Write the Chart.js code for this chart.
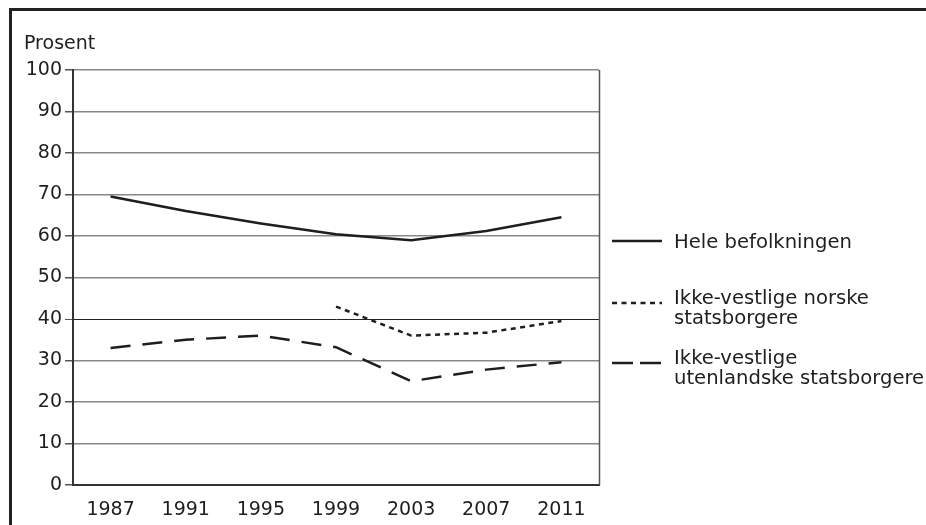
<!DOCTYPE html>
<html>
<head>
<meta charset="utf-8">
<script src="https://cdn.jsdelivr.net/npm/chart.js@4/dist/chart.umd.min.js"></script>
<style>
  html, body { margin: 0; padding: 0; background: #fff; }
  body { width: 926px; height: 525px; position: relative; overflow: hidden; }
  #ramme {
    position: absolute; left: 9px; top: 8px; width: 940px; height: 540px;
    border-left: 3px solid #222; border-top: 3px solid #222;
  }
  #graf { position: absolute; left: 0; top: 0; }
</style>
</head>
<body>
<div id="ramme"></div>
<canvas id="graf" width="926" height="525"></canvas>
<script>
// Data lest av figuren
const aar = ['1987', '1991', '1995', '1999', '2003', '2007', '2011'];
const heleBefolkningen = [69.5, 66, 63, 60.4, 59, 61.2, 64.5];
const norskeStatsborgere = [null, null, null, 43, 36, 36.7, 39.5];
const utenlandskeStatsborgere = [33, 35, 36, 33.2, 25, 27.8, 29.6];
const yMin = 0, yMax = 100, ySteg = 10;

const navn = [
    ['Hele befolkningen'],
    ['Ikke-vestlige norske', 'statsborgere'],
    ['Ikke-vestlige', 'utenlandske statsborgere']
];

const FONT = '"DejaVu Sans", sans-serif';
const MORK = '#1e1e1e';

// Egen tegnforklaring + "Prosent" + høyre kant av plottet
const ekstraTegning = {
    id: 'ekstraTegning',
    afterDraw(chart) {
        const ctx = chart.ctx;
        const area = chart.chartArea;
        ctx.save();

        // høyre kant
        ctx.strokeStyle = '#555';
        ctx.lineWidth = 1.5;
        ctx.beginPath();
        ctx.moveTo(Math.round(area.right) + 0.5, area.top);
        ctx.lineTo(Math.round(area.right) + 0.5, area.bottom);
        ctx.stroke();

        ctx.fillStyle = MORK;
        ctx.font = '19px ' + FONT;
        ctx.textBaseline = 'alphabetic';
        ctx.textAlign = 'left';
        ctx.fillText('Prosent', 24, 49);

        // tegnforklaring
        const linjeY = [241, 303, 363];
        const tekstY = [248, 304, 364];
        chart.data.datasets.forEach((ds, i) => {
            ctx.strokeStyle = ds.borderColor;
            ctx.lineWidth = ds.borderWidth;
            ctx.setLineDash(ds.legendDash || []);
            ctx.beginPath();
            ctx.moveTo(612, linjeY[i]);
            ctx.lineTo(662, linjeY[i]);
            ctx.stroke();
            ctx.setLineDash([]);
            ctx.font = '19.6px ' + FONT;
            navn[i].forEach((t, j) => ctx.fillText(t, 674, tekstY[i] + j * 20));
        });
        ctx.restore();
    }
};

new Chart(document.getElementById('graf'), {
    type: 'line',
    data: {
        labels: aar,
        datasets: [
            {
                label: navn[0].join(' '),
                data: heleBefolkningen,
                borderColor: MORK,
                borderWidth: 2.5,
                pointRadius: 0,
                tension: 0
            },
            {
                label: navn[1].join(' '),
                data: norskeStatsborgere,
                borderColor: MORK,
                borderWidth: 2.5,
                borderDash: [5, 4.5],
                legendDash: [5, 4.5],
                pointRadius: 0,
                tension: 0
            },
            {
                label: navn[2].join(' '),
                data: utenlandskeStatsborgere,
                borderColor: MORK,
                borderWidth: 2.5,
                borderDash: [20, 12],
                legendDash: [21, 7],
                pointRadius: 0,
                tension: 0
            }
        ]
    },
    options: {
        responsive: false,
        animation: false,
        layout: { padding: { left: 0, right: 327, top: 70, bottom: 0 } },
        plugins: { legend: { display: false }, tooltip: { enabled: false } },
        scales: {
            x: {
                offset: true,
                grid: { display: false },
                border: { display: true, color: '#333', width: 2 },
                ticks: { color: MORK, font: { family: FONT, size: 19 }, padding: 6, maxRotation: 0 },
                afterFit: (s) => { s.height = 40; }
            },
            y: {
                min: yMin,
                max: yMax,
                ticks: { stepSize: ySteg, color: MORK, font: { family: FONT, size: 19 }, padding: 3 },
                grid: {
                    color: (c) => (c.tick && c.tick.value === 40 ? '#222' : '#888'),
                    lineWidth: (c) => (c.tick && c.tick.value === 40 ? 1 : 1.5),
                    tickLength: 8,
                    tickColor: '#555'
                },
                border: { display: true, color: '#333', width: 2 },
                afterFit: (s) => { s.width = 73; }
            }
        }
    },
    plugins: [ekstraTegning]
});
</script>
</body>
</html>
